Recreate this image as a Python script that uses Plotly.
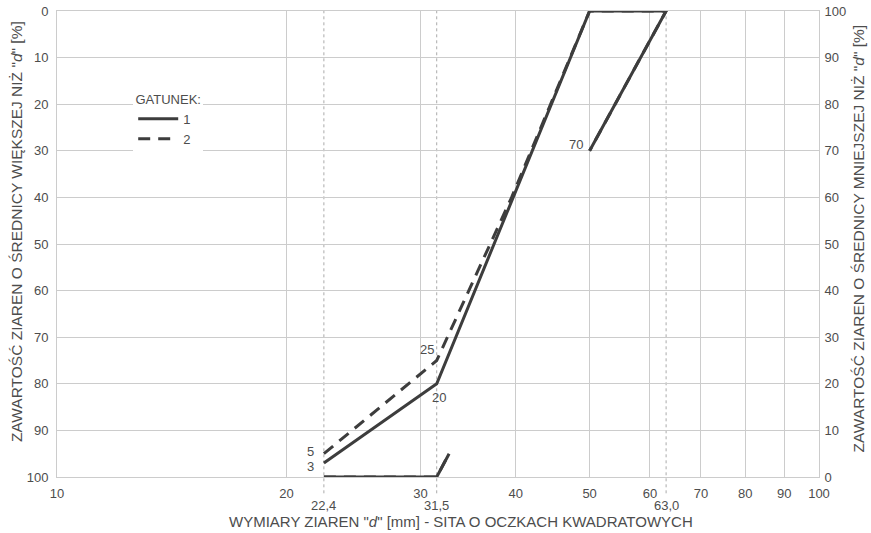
import math
import plotly.graph_objects as go

# ---- data (passing % vs. grain size d [mm]) ----
x_ticks = [10, 20, 30, 40, 50, 60, 70, 80, 90, 100]
y_ticks = [0, 10, 20, 30, 40, 50, 60, 70, 80, 90, 100]
sieve_sizes = [22.4, 31.5, 63.0]
sieve_labels = ["22,4", "31,5", "63,0"]

g1_upper_d = [22.4, 31.5, 50.0, 63.0, 50.0]
g1_upper_p = [3, 20, 100, 100, 70]
g1_lower_d = [22.4, 31.5, 32.7]
g1_lower_p = [0, 0, 5]

g2_upper_d = [22.4, 31.5, 39.5, 50.0, 63.0, 50.0]
g2_upper_p = [5, 25, 60, 100, 100, 70]
g2_lower_d = [22.4, 31.5, 32.7]
g2_lower_p = [0, 0, 5]

point_labels = [
    # (d, passing, text, xanchor, yanchor, xshift, yshift)
    (22.4, 5, "5", "right", "middle", -8, 2),
    (22.4, 3, "3", "right", "middle", -8, -3),
    (31.5, 25, "25", "right", "bottom", -1, 2),
    (31.5, 20, "20", "left", "top", -7, -4),
    (50.0, 70, "70", "right", "middle", -5, 6),
]

x_title = 'WYMIARY ZIAREN "<i>d</i>" [mm] - SITA O OCZKACH KWADRATOWYCH'
y_left_title = 'ZAWARTOŚĆ ZIAREN O ŚREDNICY WIĘKSZEJ NIŻ "<i>d</i>" [%]'
y_right_title = 'ZAWARTOŚĆ ZIAREN O ŚREDNICY MNIEJSZEJ NIŻ "<i>d</i>" [%]'

LINE = "#3d3d3d"
GRID = "#cccccc"
TXT = "#4d4d4d"
FONT = "Liberation Sans, Arial, sans-serif"

fig = go.Figure()

# invisible trace so the left (retained-fraction) axis is drawn
fig.add_trace(go.Scatter(x=[10, 100], y=[0, 100], mode="markers", yaxis="y",
                         marker=dict(opacity=0), showlegend=False, hoverinfo="skip"))

fig.add_trace(go.Scatter(x=g2_lower_d, y=g2_lower_p, mode="lines", yaxis="y2",
                         line=dict(color=LINE, width=3, dash="12px,8px"),
                         showlegend=False, hoverinfo="skip"))
fig.add_trace(go.Scatter(x=g2_upper_d, y=g2_upper_p, mode="lines", yaxis="y2", name="2",
                         line=dict(color=LINE, width=3, dash="12px,8px"), legendrank=2))
fig.add_trace(go.Scatter(x=g1_lower_d, y=g1_lower_p, mode="lines", yaxis="y2",
                         line=dict(color=LINE, width=3), showlegend=False, hoverinfo="skip"))
fig.add_trace(go.Scatter(x=g1_upper_d, y=g1_upper_p, mode="lines", yaxis="y2", name="1",
                         line=dict(color=LINE, width=3), legendrank=1))

shapes = []
for s in sieve_sizes:
    shapes.append(dict(type="line", xref="x", yref="paper", x0=s, x1=s, y0=-0.035, y1=1,
                       line=dict(color="#aaaaaa", width=1, dash="dot"), layer="below"))

annotations = []
for s, lab in zip(sieve_sizes, sieve_labels):
    annotations.append(dict(x=math.log10(s), y=0, xref="x", yref="paper", text=lab,
                            showarrow=False, yanchor="top", yshift=-19,
                            font=dict(size=13, color=TXT, family=FONT)))
for d, p, t, xa, ya, xs, ys in point_labels:
    annotations.append(dict(x=math.log10(d), y=p, xref="x", yref="y2", text=t,
                            showarrow=False, xanchor=xa, yanchor=ya, xshift=xs, yshift=ys,
                            font=dict(size=13, color=TXT, family=FONT)))
# axis titles
annotations.append(dict(text=x_title, xref="paper", yref="paper", x=0.53, y=-0.095,
                        xanchor="center", yanchor="middle", showarrow=False,
                        font=dict(size=15, color=TXT, family=FONT)))
annotations.append(dict(text=y_left_title, xref="paper", yref="paper", x=-0.0525, y=0.528,
                        xanchor="center", yanchor="middle", showarrow=False, textangle=-90,
                        font=dict(size=15.5, color=TXT, family=FONT)))
annotations.append(dict(text=y_right_title, xref="paper", yref="paper", x=1.0512, y=0.512,
                        xanchor="center", yanchor="middle", showarrow=False, textangle=-90,
                        font=dict(size=15.5, color=TXT, family=FONT)))

fig.update_layout(
    width=871, height=533,
    margin=dict(l=57, r=52, t=11, b=56),
    paper_bgcolor="white", plot_bgcolor="white",
    font=dict(family=FONT, size=13, color=TXT),
    showlegend=True,
    legend=dict(x=0.1, y=0.837, xanchor="left", yanchor="top",
                bgcolor="white", borderwidth=0,
                title=dict(text="GATUNEK:", side="top center", font=dict(size=13, color=TXT)),
                font=dict(size=13, color=TXT), tracegroupgap=0, itemwidth=40),
    xaxis=dict(type="log", range=[1, 2], tickvals=x_ticks, ticktext=[str(v) for v in x_ticks],
               automargin=False,
               showgrid=True, gridcolor=GRID, gridwidth=1, zeroline=False,
               showline=True, linecolor=GRID, mirror=True,
               ticks="outside", ticklen=4, tickcolor="rgba(0,0,0,0)",
               tickfont=dict(size=13, color=TXT)),
    yaxis=dict(range=[100, 0], tickvals=y_ticks, showgrid=True, gridcolor=GRID, gridwidth=1,
               automargin=False,
               zeroline=False, showline=True, linecolor=GRID, mirror=True,
               ticks="outside", ticklen=5, tickcolor="rgba(0,0,0,0)",
               tickfont=dict(size=13, color=TXT)),
    yaxis2=dict(range=[0, 100], tickvals=y_ticks, overlaying="y", side="right",
                automargin=False,
                showgrid=False, zeroline=False,
                ticks="outside", ticklen=2, tickcolor="rgba(0,0,0,0)",
                tickfont=dict(size=13, color=TXT)),
    shapes=shapes,
    annotations=annotations,
)

fig.write_html("out.html")
